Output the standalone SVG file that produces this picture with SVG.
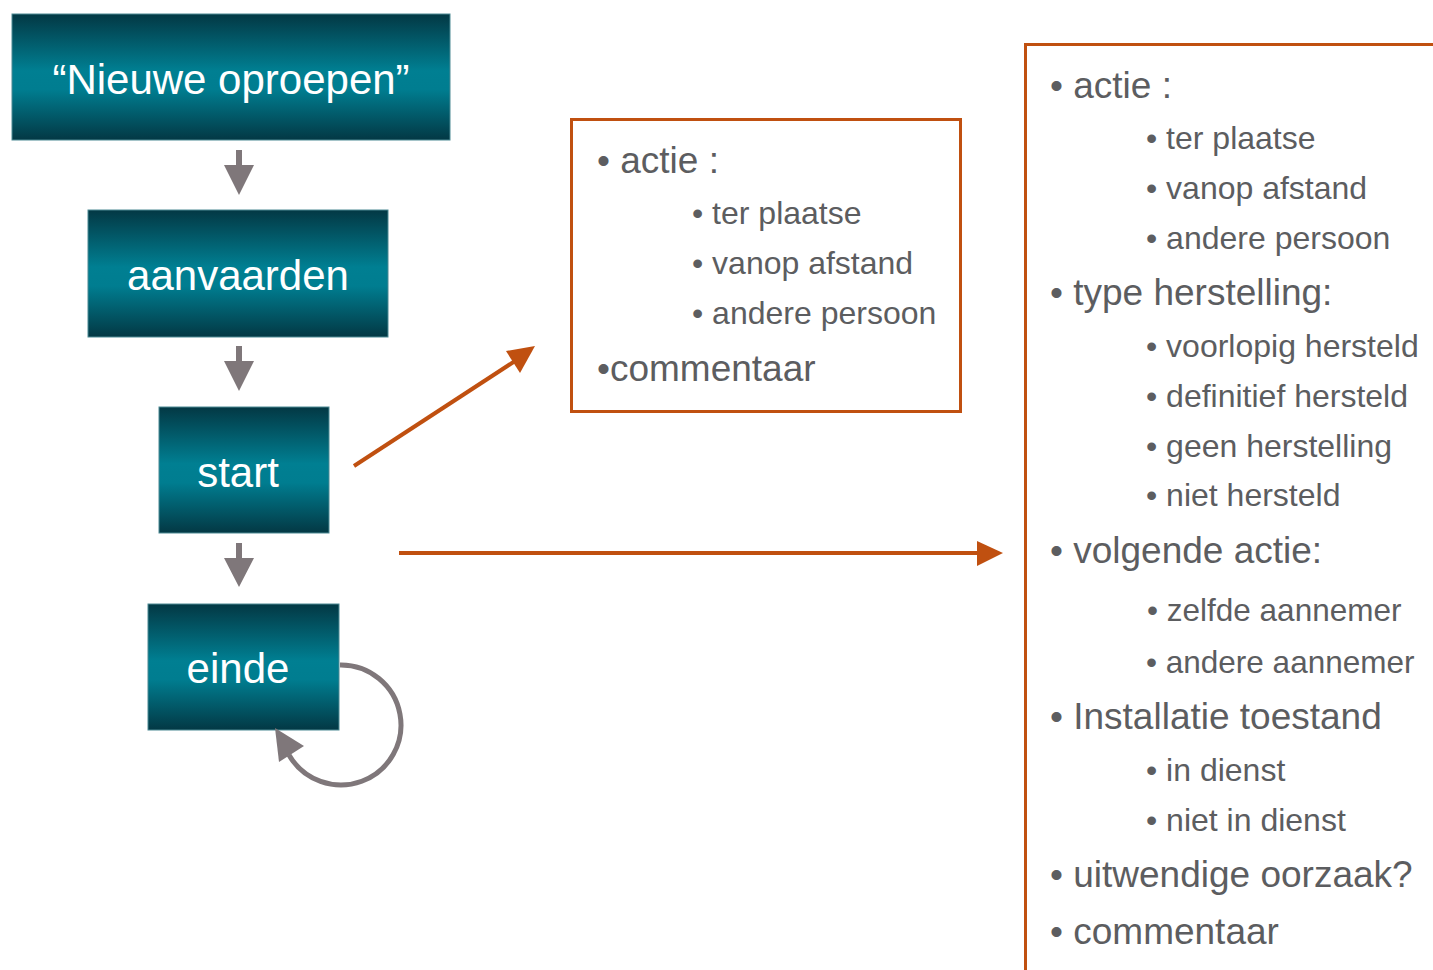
<svg xmlns="http://www.w3.org/2000/svg" width="1433" height="970" viewBox="0 0 1433 970">
<defs>
<linearGradient id="teal" x1="0" y1="0" x2="0" y2="1">
<stop offset="0" stop-color="#033844"/>
<stop offset="0.45" stop-color="#007f92"/>
<stop offset="0.6" stop-color="#007d90"/>
<stop offset="1" stop-color="#033844"/>
</linearGradient>
</defs>
<style>
.box{fill:url(#teal);stroke:#4d8a94;stroke-width:1}
.nt{font-family:"Liberation Sans",Arial,sans-serif;font-size:42px;fill:#ffffff;text-anchor:middle}
.m{font-family:"Liberation Sans",Arial,sans-serif;font-size:37px;fill:#5c5d60}
.s{font-family:"Liberation Sans",Arial,sans-serif;font-size:32px;fill:#5c5d60}
.s2{font-family:"Liberation Sans",Arial,sans-serif;font-size:31.5px;fill:#5c5d60}
.gray{fill:#7f777a}
.ol{stroke:#c05010;stroke-width:4;fill:none}
</style>
<rect width="1433" height="970" fill="#ffffff"/>
<g id="node-nieuwe">
<rect class="box" x="12" y="14" width="438" height="126"/>
<text class="nt" x="231" y="94">“Nieuwe oproepen”</text>
</g>
<g id="node-aanvaarden">
<rect class="box" x="88" y="210" width="300" height="127"/>
<text class="nt" x="238" y="290">aanvaarden</text>
</g>
<g id="node-start">
<rect class="box" x="159" y="407" width="170" height="126"/>
<text class="nt" x="238" y="487">start</text>
</g>
<g id="node-einde">
<rect class="box" x="148" y="604" width="191" height="126"/>
<text class="nt" x="238" y="683">einde</text>
</g>
<g id="connectors">
<path class="gray" d="M236,150 H242 V165 H254 L239,195 L224,165 H236 Z"/>
<path class="gray" d="M236,346 H242 V361 H254 L239,391 L224,361 H236 Z"/>
<path class="gray" d="M236,543 H242 V558 H254 L239,587 L224,558 H236 Z"/>
<path d="M340,665 A60,60 0 1 1 289,755" fill="none" stroke="#7f777a" stroke-width="5"/>
<polygon class="gray" points="275,728 304,746 279,762"/>
<line class="ol" x1="354" y1="466" x2="515" y2="361"/>
<polygon points="506,351 535,346 520,373" fill="#c05010"/>
<line class="ol" x1="399" y1="553" x2="980" y2="553"/>
<polygon points="977,541 1003,553 977,566" fill="#c05010"/>
</g>
<g id="panel-start">
<rect x="571.5" y="119.5" width="389" height="292" fill="none" stroke="#c05010" stroke-width="3"/>
<text class="m" x="597" y="173">• actie :</text>
<text class="s" x="692" y="224">• ter plaatse</text>
<text class="s" x="692" y="274">• vanop afstand</text>
<text class="s" x="692" y="324">• andere persoon</text>
<text class="m" x="597" y="381">•commentaar</text>
</g>
<g id="panel-einde">
<path d="M1433,44.5 H1025.5 V970" fill="none" stroke="#c05010" stroke-width="3"/>
<text class="m" x="1050" y="98">• actie :</text>
<text class="s" x="1146" y="149">• ter plaatse</text>
<text class="s" x="1146" y="199">• vanop afstand</text>
<text class="s" x="1146" y="249">• andere persoon</text>
<text class="m" x="1050" y="305">• type herstelling:</text>
<text class="s" x="1146" y="357">• voorlopig hersteld</text>
<text class="s" x="1146" y="407">• definitief hersteld</text>
<text class="s" x="1146" y="457">• geen herstelling</text>
<text class="s" x="1146" y="506">• niet hersteld</text>
<text class="m" x="1050" y="563">• volgende actie:</text>
<text class="s2" x="1147" y="621">•  zelfde aannemer</text>
<text class="s2" x="1146" y="673">• andere aannemer</text>
<text class="m" x="1050" y="729">• Installatie toestand</text>
<text class="s" x="1146" y="781">• in dienst</text>
<text class="s" x="1146" y="831">• niet in dienst</text>
<text class="m" x="1050" y="887">• uitwendige oorzaak?</text>
<text class="m" x="1050" y="944">• commentaar</text>
</g>
</svg>
